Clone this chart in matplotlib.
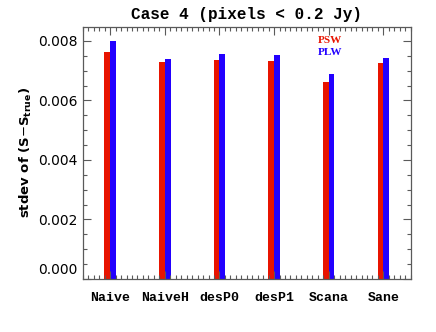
import numpy as np
import matplotlib
matplotlib.use("Agg")
import matplotlib.pyplot as plt
from matplotlib.ticker import MultipleLocator, FixedLocator
from matplotlib.transforms import ScaledTranslation

# dane
metody = ["Naive", "NaiveH", "desP0", "desP1", "Scana", "Sane"]
psw = [0.00762, 0.00728, 0.00735, 0.00733, 0.00662, 0.00725]
plw = [0.00800, 0.00740, 0.00757, 0.00752, 0.00689, 0.00743]

czerwony = "#e81400"
niebieski = "#2200ff"
szary = "#5a5a5a"

plt.rcParams["mathtext.fontset"] = "dejavusans"

fig = plt.figure(figsize=(4.36, 3.32), dpi=100)
ax = fig.add_axes([0.19, 0.16, 0.752, 0.759])

x = np.arange(1, len(metody) + 1)
w = 0.105
ax.bar(x - w / 2, psw, width=w, color=czerwony, linewidth=0)
ax.bar(x + w / 2, plw, width=w, color=niebieski, linewidth=0)

ax.set_xlim(0.5, 6.5)
ax.set_ylim(0, 0.00847)

ax.xaxis.set_major_locator(FixedLocator(x))
ax.xaxis.set_minor_locator(MultipleLocator(0.1))
ax.yaxis.set_minor_locator(MultipleLocator(0.0005))
ax.set_xticklabels(metody, family="Liberation Mono", fontweight="bold", fontsize=9.5)
ax.set_yticks(np.arange(0, 0.0081, 0.002))
ax.set_yticklabels(["0.000", "0.002", "0.004", "0.006", "0.008"],
                   family="DejaVu Sans", fontsize=10)

ax.tick_params(which="both", direction="in", top=True, right=True, color=szary)
ax.tick_params(which="major", length=6, width=0.8)
ax.tick_params(which="minor", length=3, width=0.8)
ax.tick_params(axis="x", which="major", pad=9.5)
ax.tick_params(axis="y", which="major", pad=4)
for s in ax.spines.values():
    s.set_color(szary)
    s.set_linewidth(0.9)

# IDL podnosi etykiete 0.000
lab0 = ax.get_yticklabels()[0]
lab0.set_transform(lab0.get_transform() + ScaledTranslation(0, 0.1, fig.dpi_scale_trans))

ax.set_title("Case 4 (pixels < 0.2 Jy)", family="Liberation Mono", fontweight="bold",
             fontsize=11.5, pad=6)
ax.set_ylabel(r"stdev of (S$-$S$_{\mathbf{true}}$)", fontweight="bold", fontsize=9.5, labelpad=3)

ax.text(0.716, 0.946, "PSW", transform=ax.transAxes, color=czerwony,
        family="Liberation Serif", fontweight="bold", fontsize=8, va="center", ha="left")
ax.text(0.716, 0.898, "PLW", transform=ax.transAxes, color=niebieski,
        family="Liberation Serif", fontweight="bold", fontsize=8, va="center", ha="left")

fig.savefig("out.png", dpi=100)
